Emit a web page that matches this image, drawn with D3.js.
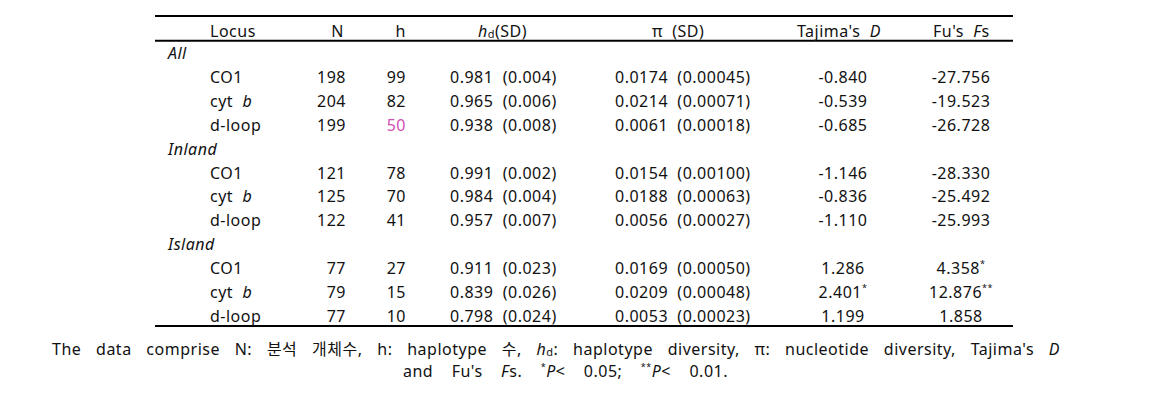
<!DOCTYPE html>
<html>
<head>
<meta charset="utf-8">
<script src="https://cdn.jsdelivr.net/npm/d3@7"></script>
<style>
  body { margin: 0; background: #fff; }
  svg text { font-family: "Noto Sans", "Noto Sans CJK KR", sans-serif; font-size: 16px; letter-spacing: 0.5px; fill: #111; }
</style>
</head>
<body>
<div id="table"></div>
<script>
const groups = ['All', 'Inland', 'Island'];
const loci = ['CO1', 'cyt b', 'd-loop'];
const nValues = [198, 204, 199, 121, 125, 122, 77, 79, 77];
const hValues = [99, 82, 50, 78, 70, 41, 27, 15, 10];
const hdValues = ['0.981', '0.965', '0.938', '0.991', '0.984', '0.957', '0.911', '0.839', '0.798'];
const hdSD = ['0.004', '0.006', '0.008', '0.002', '0.004', '0.007', '0.023', '0.026', '0.024'];
const piValues = ['0.0174', '0.0214', '0.0061', '0.0154', '0.0188', '0.0056', '0.0169', '0.0209', '0.0053'];
const piSD = ['0.00045', '0.00071', '0.00018', '0.00100', '0.00063', '0.00027', '0.00050', '0.00048', '0.00023'];
const tajimaD = ['-0.840', '-0.539', '-0.685', '-1.146', '-0.836', '-1.110', '1.286', '2.401', '1.199'];
const tajimaSig = ['', '', '', '', '', '', '', '*', ''];
const fuFs = ['-27.756', '-19.523', '-26.728', '-28.330', '-25.492', '-25.993', '4.358', '12.876', '1.858'];
const fuSig = ['', '', '', '', '', '', '*', '**', ''];
const highlight = { row: 2, col: 'h' }; // the pink "50"

const WIDTH = 1161, HEIGHT = 401;
const svg = d3.select('#table').append('svg')
  .attr('width', WIDTH).attr('height', HEIGHT);

// column positions and anchors
const colKeys = ['group', 'locus', 'N', 'h', 'hd', 'pi', 'D', 'Fs'];
const x = d3.scaleOrdinal().domain(colKeys)
  .range([168, 210, 346, 406, 450, 615, 843, 961]);
const anchor = d3.scaleOrdinal().domain(colKeys)
  .range(['start', 'start', 'end', 'end', 'start', 'start', 'middle', 'middle']);
// rows: 12 lines (3 group labels + 9 locus lines)
const y = d3.scaleLinear().domain([0, 11]).range([59, 322]);

/* rules */
[16, 40.7, 326].forEach(function(ly) {
  svg.append('line').attr('x1', 155).attr('x2', 1013).attr('y1', ly).attr('y2', ly)
    .attr('stroke', '#000').attr('stroke-width', 2);
});

/* header */
var hy = 36.5;
var header = svg.append('g');
header.append('text').attr('x', 210).attr('y', hy).text('Locus');
header.append('text').attr('x', 344).attr('y', hy).attr('text-anchor', 'end').text('N');
header.append('text').attr('x', 406).attr('y', hy).attr('text-anchor', 'end').text('h');
var hdHead = header.append('text').attr('x', 478).attr('y', hy);
hdHead.append('tspan').attr('font-style', 'italic').text('h');
hdHead.append('tspan').attr('font-size', '11px').attr('dy', 1).text('d');
hdHead.append('tspan').attr('dy', -1).text('(SD)');
header.append('text').attr('x', 652).attr('y', hy).attr('xml:space', 'preserve').text('π  (SD)');
var tdHead = header.append('text').attr('x', 797).attr('y', hy)
  .attr('xml:space', 'preserve');
tdHead.append('tspan').text("Tajima's  ");
tdHead.append('tspan').attr('font-style', 'italic').text('D');
var fsHead = header.append('text').attr('x', 933).attr('y', hy)
  .attr('xml:space', 'preserve');
fsHead.append('tspan').text("Fu's  ");
fsHead.append('tspan').attr('font-style', 'italic').text('F');
fsHead.append('tspan').text('s');

/* body rows */
var rows = [];
groups.forEach(function(g, gi) {
  rows.push({ type: 'group', label: g });
  loci.forEach(function(l, li) {
    rows.push({ type: 'locus', label: l, i: gi * loci.length + li });
  });
});

var body = svg.append('g');
rows.forEach(function(r, ri) {
  var yy = y(ri);
  if (r.type === 'group') {
    body.append('text').attr('x', x('group')).attr('y', yy)
      .attr('font-style', 'italic').text(r.label);
    return;
  }
  var i = r.i;
  var loc = body.append('text').attr('x', x('locus')).attr('y', yy)
    .attr('xml:space', 'preserve');
  if (r.label === 'cyt b') {
    loc.append('tspan').text('cyt  ');
    loc.append('tspan').attr('font-style', 'italic').text('b');
  } else {
    loc.text(r.label);
  }
  body.append('text').attr('x', x('N')).attr('y', yy).attr('text-anchor', anchor('N'))
    .text(nValues[i]);
  body.append('text').attr('x', x('h')).attr('y', yy).attr('text-anchor', anchor('h'))
    .style('fill', i === highlight.row ? '#d04fb4' : null)
    .text(hValues[i]);
  body.append('text').attr('x', x('hd')).attr('y', yy).attr('xml:space', 'preserve')
    .text(hdValues[i] + '  (' + hdSD[i] + ')');
  body.append('text').attr('x', x('pi')).attr('y', yy).attr('xml:space', 'preserve')
    .text(piValues[i] + '  (' + piSD[i] + ')');
  var td = body.append('text').attr('x', x('D')).attr('y', yy).attr('text-anchor', anchor('D'));
  td.append('tspan').text(tajimaD[i]);
  if (tajimaSig[i]) td.append('tspan').attr('font-size', '9px').attr('dy', -7).text(tajimaSig[i]);
  var fs = body.append('text').attr('x', x('Fs')).attr('y', yy).attr('text-anchor', anchor('Fs'));
  fs.append('tspan').text(fuFs[i]);
  if (fuSig[i]) fs.append('tspan').attr('font-size', '9px').attr('dy', -7).text(fuSig[i]);
});

/* caption - widen word gaps (not letters) to the reference line widths */
var spreadWords = function(textSel, target) {
  var natural = textSel.node().getComputedTextLength();
  var spaces = (textSel.text().match(/ /g) || []).length;
  textSel.style('word-spacing', Math.max(0, (target - natural) / spaces) + 'px');
};

var cap = svg.append('g');
var c1 = cap.append('text').attr('x', 52).attr('y', 355)
  .attr('xml:space', 'preserve');
c1.append('tspan').text('The data comprise N: 분석 개체수, h: haplotype 수, ');
c1.append('tspan').attr('font-style', 'italic').text('h');
c1.append('tspan').attr('font-size', '11px').attr('dy', 1).text('d');
c1.append('tspan').attr('dy', -1).text(": haplotype diversity, π: nucleotide diversity, Tajima's ");
c1.append('tspan').attr('font-style', 'italic').text('D');
spreadWords(c1, 1008);

var c2 = cap.append('text').attr('x', 403).attr('y', 377)
  .attr('xml:space', 'preserve');
c2.append('tspan').text("and Fu's ");
c2.append('tspan').attr('font-style', 'italic').text('F');
c2.append('tspan').text('s. ');
c2.append('tspan').attr('font-size', '9px').attr('dy', -7).text('*');
c2.append('tspan').attr('font-style', 'italic').attr('dy', 7).text('P');
c2.append('tspan').text('< 0.05; ');
c2.append('tspan').attr('font-size', '9px').attr('dy', -7).text('**');
c2.append('tspan').attr('font-style', 'italic').attr('dy', 7).text('P');
c2.append('tspan').text('< 0.01.');
spreadWords(c2, 325);
</script>
</body>
</html>
